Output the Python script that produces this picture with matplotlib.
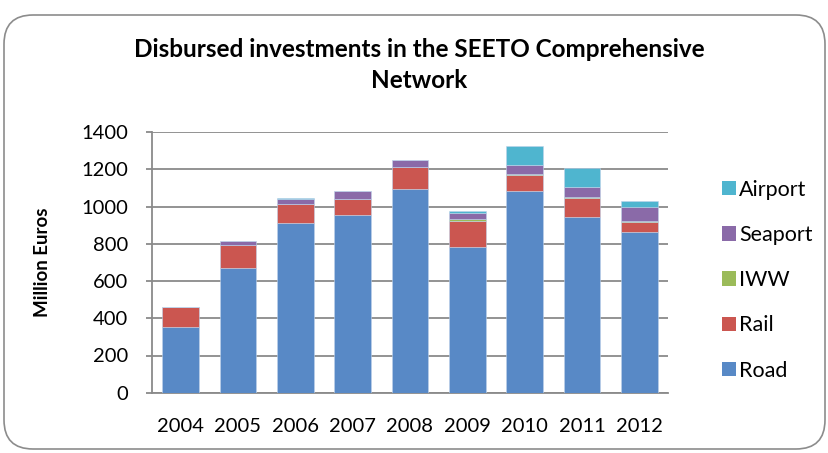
import matplotlib
matplotlib.use("Agg")
import matplotlib.pyplot as plt
from matplotlib.patches import FancyBboxPatch, Rectangle
import numpy as np

years = ["2004", "2005", "2006", "2007", "2008", "2009", "2010", "2011", "2012"]
road = [351, 672, 911, 954, 1095, 782, 1086, 943, 866]
rail = [108, 120, 105, 87, 117, 143, 84, 102, 50]
iww = [0, 0, 0, 0, 0, 9, 7, 7, 7]
seaport = [0, 25, 24, 42, 41, 34, 46, 56, 75]
airport = [0, 0, 5, 0, 0, 9, 103, 98, 33]

series = [("Road", road, "#5889C6"), ("Rail", rail, "#CB5650"),
          ("IWW", iww, "#9BBB59"), ("Seaport", seaport, "#8A6AA8"),
          ("Airport", airport, "#4FB5CF")]

plt.rcParams['font.family'] = ['Lato', 'DejaVu Sans']

fig = plt.figure(figsize=(8.29, 4.53), dpi=100)
# outer rounded border
border = FancyBboxPatch((4/829, 4/453), 821/829, 434/453,
                        boxstyle="round,pad=0,rounding_size=0.035",
                        transform=fig.transFigure, facecolor="white",
                        edgecolor="#8C8C8C", linewidth=1.2, mutation_aspect=829/453,
                        zorder=-5)
fig.patches.append(border)

ax = fig.add_axes([152/829, 60.3/453, 516/829, 260.4/453])
ax.set_zorder(2)
ax.set_facecolor("none")
x = np.arange(len(years))
bottom = np.zeros(len(years))
handles = []
for name, vals, col in series:
    v = np.array(vals, dtype=float)
    ax.bar(x, v, 0.64, bottom=bottom, color=col, edgecolor="#BFD3EA", linewidth=0.4, zorder=3)
    bottom += v
    handles.append(Rectangle((0, 0), 1, 1, facecolor=col, edgecolor="none"))

ax.set_xlim(-0.5, len(years) - 0.5)
ax.set_ylim(0, 1400)
ax.set_yticks(range(0, 1401, 200))
ax.set_xticks(x)
ax.set_xticklabels(years)
ax.yaxis.grid(True, color="#8A8A8A", linewidth=1.3, zorder=0)
ax.set_axisbelow(True)
for s in ["top", "right"]:
    ax.spines[s].set_visible(False)
for s in ["left", "bottom"]:
    ax.spines[s].set_color("#8A8A8A")
    ax.spines[s].set_linewidth(1.3)
ax.tick_params(axis="y", length=4, width=1.3, color="#8A8A8A", pad=13, labelsize=14.5)
ax.tick_params(axis="x", length=0, pad=18, labelsize=14.5)

ax.set_ylabel("Million Euros", fontsize=13.5, fontweight="bold")
ax.yaxis.set_label_coords(-0.195, 0.5)

fig.text(419/829, 1 - 38/453,
         "Disbursed investments in the SEETO Comprehensive\nNetwork",
         ha="center", va="top", fontsize=17.5, fontweight="bold", linespacing=1.4)

leg = fig.legend(handles[::-1], [s[0] for s in series][::-1],
                 loc="upper left", bbox_to_anchor=(711/829, 1 - 169/453),
                 frameon=False, fontsize=15.5, handlelength=0.65, handleheight=0.65,
                 handletextpad=0.15, labelspacing=1.17, borderpad=0)

fig.savefig("out.png", dpi=100)
